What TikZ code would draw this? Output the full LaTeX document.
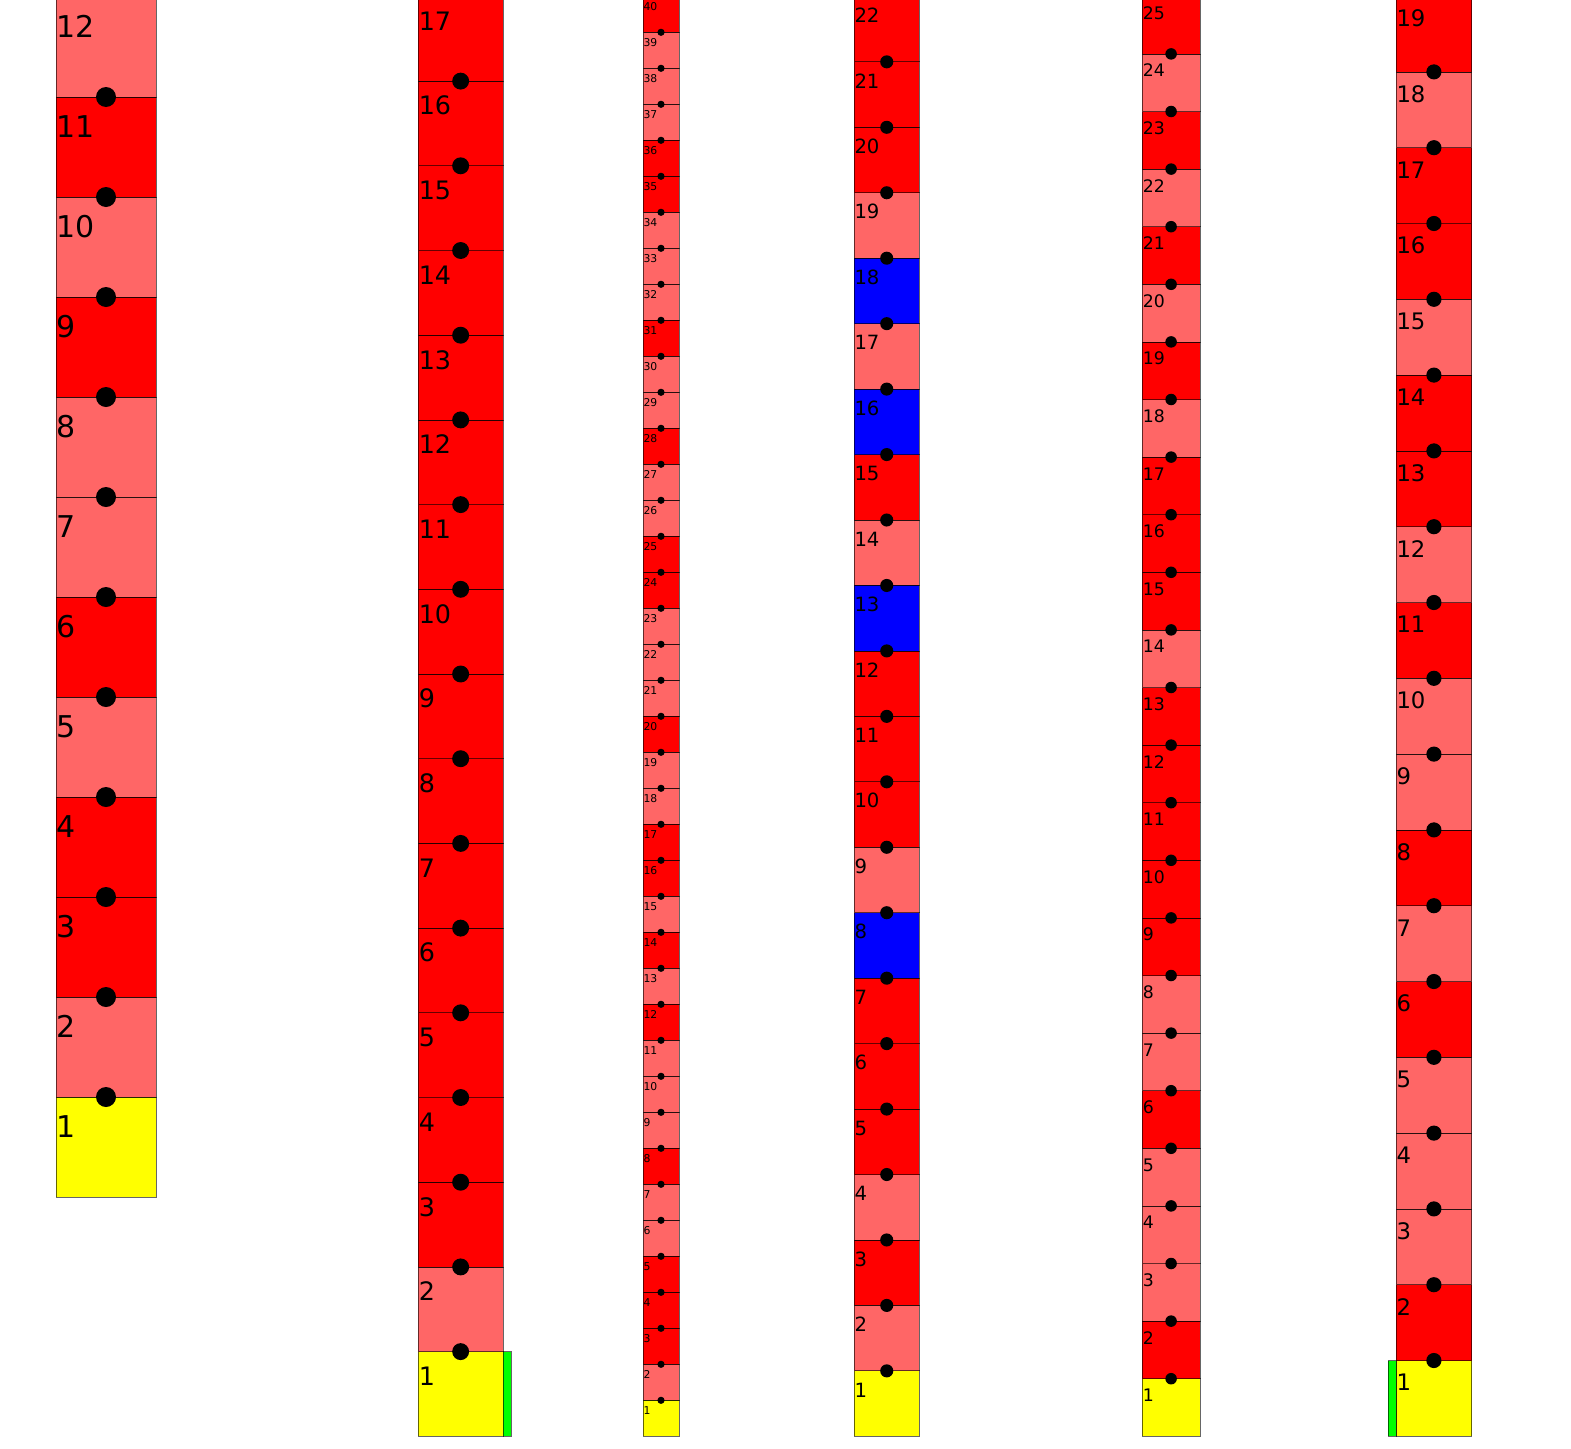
\documentclass[tikz,border=0pt]{standalone}
\usepackage{fontspec}
\setmainfont{DejaVu Sans}
\definecolor{cY}{HTML}{FFFF00}
\definecolor{cL}{HTML}{FF6666}
\definecolor{cR}{HTML}{FF0000}
\definecolor{cB}{HTML}{0000FF}
\definecolor{cG}{HTML}{00FF00}
\tikzset{
  cell/.style={rectangle, draw=black, draw opacity=0.6, line width=0.8pt, inner sep=0pt, outer sep=0pt},
  lbl/.style={inner sep=0pt, outer sep=0pt, anchor=base west, text=black},
  dotmark/.style={fill=black}
}
\newcommand{\stackcol}[5]{%
  \foreach \c [count=\i] in {#5} {%
    \pgfmathsetmacro{\ytop}{#3-\i*#4}%
    \pgfmathsetmacro{\ybot}{#3-(\i-1)*#4}%
    \pgfmathsetmacro{\ylab}{\ytop+0.4*#4}%
    \pgfmathsetmacro{\fs}{0.3*#4}%
    \pgfmathsetmacro{\rr}{0.1*#4}%
    \node[cell, fill=c\c, minimum width=#4pt, minimum height=#4pt, anchor=north west] (#1-\i) at (#2,\ytop) {};
    \node[lbl, font=\fontsize{\fs pt}{\fs pt}\selectfont] (#1-\i-t) at (#2+0.5,\ylab) {\i};
    \ifnum\i>1 \fill[dotmark] (#2+0.5*#4,\ybot) circle[radius=\rr pt];\fi
  }%
}
\begin{document}
\begin{tikzpicture}[x=1pt,y=-1pt]
\useasboundingbox (0,0) rectangle (1571,1448);
\clip (0,0) rectangle (1571,1448);
\fill[white] (0,0) rectangle (1571,1448);
% column 1
\stackcol{a}{56}{1197}{100}{Y,L,R,R,L,R,L,L,R,L,R,L}
% column 2
\stackcol{b}{418.3}{1436.3}{84.7}{Y,L,R,R,R,R,R,R,R,R,R,R,R,R,R,R,R}
\node[cell, fill=cG, minimum width=8.47pt, minimum height=84.7pt, anchor=south west] (bg) at (503,1436.3) {};
% column 3
\stackcol{c}{643}{1436.3}{36}{Y,L,R,R,R,L,L,R,L,L,L,R,L,R,L,R,R,L,L,R,L,L,L,R,R,L,L,R,L,L,R,L,L,L,R,R,L,L,L,R}
% column 4
\stackcol{d}{854}{1436.3}{65.45}{Y,L,R,L,R,R,R,B,L,R,R,R,B,L,R,B,L,B,L,R,R,R}
% column 5
\stackcol{e}{1142.3}{1436.3}{57.6}{Y,R,L,L,L,R,L,L,R,R,R,R,R,L,R,R,R,L,R,L,R,L,R,L,R}
% column 6
\stackcol{f}{1396}{1436.3}{75.8}{Y,R,L,L,L,R,L,R,L,L,R,L,R,R,L,R,R,L,R}
\node[cell, fill=cG, minimum width=7.58pt, minimum height=75.8pt, anchor=south east] (fg) at (1396,1436.3) {};
\end{tikzpicture}
\end{document}
